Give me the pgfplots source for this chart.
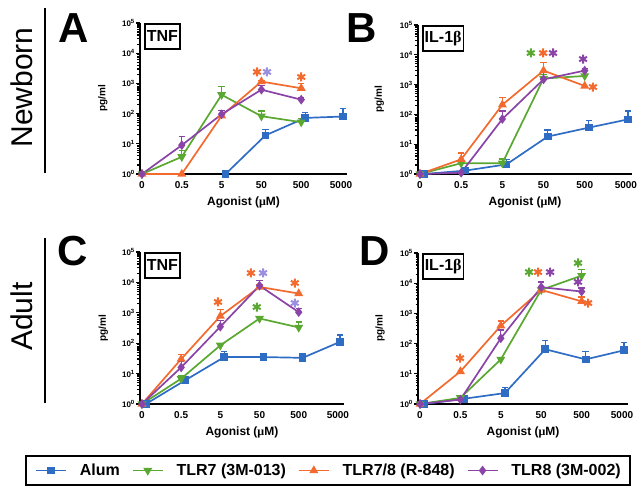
\documentclass[border=0pt]{standalone}
\usepackage{fontspec}
\setmainfont{Liberation Sans}
\newfontfamily\greekf{Liberation Serif}
\usepackage{pgfplots}
\pgfplotsset{compat=1.18}

\definecolor{cblue}{HTML}{2F6DC4}
\definecolor{cgreen}{HTML}{5AA832}
\definecolor{corange}{HTML}{F26A2E}
\definecolor{cpurple}{HTML}{8A44A8}
\definecolor{clav}{HTML}{9A8EE0}

\newcommand{\fs}[1]{\fontsize{#1}{#1}\selectfont}

\pgfplotsset{
  panelopts/.style={
    scale only axis, clip=false,
    ymin=1, ymax=1e5,
    xmin=-0.05, xmax=5.15,
    axis lines=left,
    axis line style={line width=2pt, -},
    xtick={0,1,2,3,4,5},
    xticklabels={0,0.5,5,50,500,5000},
    xtick style={draw=none},
    ytick={1,10,100,1000,10000,100000},
    yticklabels={10\textsuperscript{0},10\textsuperscript{1},10\textsuperscript{2},10\textsuperscript{3},10\textsuperscript{4},10\textsuperscript{5}},
    minor ytick={2,3,4,5,6,7,8,9,20,30,40,50,60,70,80,90,200,300,400,500,600,700,800,900,2000,3000,4000,5000,6000,7000,8000,9000,20000,30000,40000,50000,60000,70000,80000,90000},
    ytick style={line width=1.2pt, black},
    tick align=outside,
    major tick length=4pt, minor tick length=2.5pt,
    xticklabel style={font=\bfseries\fs{10}},
    yticklabel style={font=\bfseries\fs{8}, inner sep=1pt},
    xlabel={Agonist ({\greekf μ}M)},
    xlabel style={font=\bfseries\fs{12}, at={(axis description cs:0.5,-0.19)}, anchor=center},
    ylabel={pg/ml},
    ylabel style={font=\bfseries\fs{10}, at={(axis description cs:-0.18,0.5)}, anchor=center},
  },
  ebars/.style={error bars/.cd, y dir=plus, y explicit,
    error bar style={line width=1.3pt},
    error mark options={rotate=90, mark size=3.2pt, line width=1.3pt}},
  alum/.style={color=cblue, line width=1.7pt, mark=square*, mark size=3pt, mark options={solid}, ebars},
  tlrseven/.style={color=cgreen, line width=1.7pt, mark=triangle*, mark size=3.5pt, mark options={solid, rotate=180}, ebars},
  tlrrs/.style={color=corange, line width=1.7pt, mark=triangle*, mark size=3.5pt, mark options={solid}, ebars},
  tlreight/.style={color=cpurple, line width=1.7pt, mark=diamond*, mark size=3.5pt, mark options={solid}, ebars},
  sigstar/.style={only marks, mark=asterisk, mark size=4.5pt, line width=2pt, forget plot},
}
\tikzset{lbox/.style={draw=black, line width=1.6pt, anchor=north west, inner xsep=2pt, minimum height=25pt, font=\bfseries\fs{16}, xshift=4pt}}

\begin{document}
\begin{tikzpicture}[x=1pt, y=1pt]
\useasboundingbox (0,0) rectangle (641,-495);

% side titles and panel letters
\node[rotate=90, anchor=base, inner sep=0pt, font=\fs{30}] at (32,-87.5) {Newborn};
\draw[line width=2.5pt] (45,-8) -- (45,-173);
\node[rotate=90, anchor=base, inner sep=0pt, font=\fs{30}] at (32,-316.5) {Adult};
\draw[line width=2.5pt] (45,-238) -- (45,-403);
\node[anchor=base west, inner sep=0pt, font=\bfseries\fs{42}] at (58,-43) {A};
\node[anchor=base west, inner sep=0pt, font=\bfseries\fs{42}] at (346,-43) {B};
\node[anchor=base west, inner sep=0pt, font=\bfseries\fs{42}] at (57,-265) {C};
\node[anchor=base west, inner sep=0pt, font=\bfseries\fs{42}] at (359,-265) {D};

% A: newborn TNF
\begin{semilogyaxis}[panelopts, at={(140pt,-174pt)}, anchor=south west, width=207pt, height=151pt]
\addplot[alum] coordinates {(2.1,1) (3.1,19) += (0,11) (4.1,72) += (0,38) (5.05,80) += (0,70)};
\addplot[tlrseven] coordinates {(0,1) (1,3.7) += (0,2.3) (2,420) += (0,350) (3,82) += (0,40) (4,52) += (0,18)};
\addplot[tlrrs] coordinates {(0,1) (1,1) (2,85) (3,1150) += (0,100) (4,690) += (0,310)};
\addplot[tlreight] coordinates {(0,1) (1,9) += (0,8) (2,95) += (0,35) (3,620) += (0,250) (4,290) += (0,50)};
\addplot[sigstar, color=corange] coordinates {(2.89,2400) (4.0,1630)};
\addplot[sigstar, color=clav] coordinates {(3.14,2400)};
\node[lbox] at (rel axis cs:0,1) {TNF};
\end{semilogyaxis}

% B: newborn IL-1beta
\begin{semilogyaxis}[panelopts, at={(417.9pt,-174pt)}, anchor=south west, width=214.2pt, height=149pt]
\addplot[alum] coordinates {(0.1,1) (1.1,1.3) (2.1,2.1) += (0,1) (3.1,18) += (0,12) (4.1,36) += (0,26) (5.05,68) += (0,62)};
\addplot[tlrseven] coordinates {(0,1) (1,2.3) += (0,0.8) (2,2.3) += (0,0.9) (3,1600) += (0,600) (4,1950) += (0,1000)};
\addplot[tlrrs] coordinates {(0,1) (1,3.1) += (0,2) (2,210) += (0,150) (3,2950) += (0,2600) (4,900)};
\addplot[tlreight] coordinates {(0,1) (1,1.1) (2,70) += (0,60) (3,1500) += (0,1000) (4,2950) += (0,600)};
\addplot[sigstar, color=cgreen] coordinates {(2.69,11500)};
\addplot[sigstar, color=corange] coordinates {(2.99,11500) (4.2,830)};
\addplot[sigstar, color=cpurple] coordinates {(3.23,11500) (3.96,7200)};
\node[lbox] at (rel axis cs:0,1) {IL-1{\greekf β}};
\end{semilogyaxis}

% C: adult TNF
\begin{semilogyaxis}[panelopts, at={(140pt,-404pt)}, anchor=south west, width=203.8pt, height=152pt,
  legend columns=4,
  legend image code/.code={\draw[mark repeat=2,mark phase=2,#1] plot coordinates {(0pt,0pt) (15pt,0pt) (30pt,0pt)};},
  legend style={at={(axis description cs:0.9225,-0.4375)}, anchor=center, draw=black, line width=1.6pt,
    font=\bfseries\fs{16}, inner xsep=9pt, inner ysep=8pt, nodes={inner sep=0pt},
    /tikz/every odd column/.append style={column sep=13pt},
    /tikz/every even column/.append style={column sep=12pt}}]
\addplot[alum] coordinates {(0.1,1) (1.1,6) (2.1,35) += (0,17) (3.1,35) += (0,12) (4.1,33) += (0,14) (5.05,110) += (0,75)};
\addplot[tlrseven] coordinates {(0,1) (1,6.8) += (0,1.5) (2,85) (3,650) (4,330) += (0,170)};
\addplot[tlrrs] coordinates {(0,1) (1,30) += (0,12) (2,780) += (0,500) (3,7100) += (0,1500) (4,4300)};
\addplot[tlreight] coordinates {(0,1) (1,16) += (0,9) (2,350) += (0,200) (3,7800) += (0,4000) (4,1050) += (0,300)};
\addplot[sigstar, color=corange] coordinates {(1.94,2270) (2.78,20400) (3.90,9550)};
\addplot[sigstar, color=cgreen] coordinates {(2.93,1550)};
\addplot[sigstar, color=clav] coordinates {(3.09,20400) (3.90,2100)};
\node[lbox] at (rel axis cs:0,1) {TNF};
\legend{Alum, TLR7 (3M-013), TLR7/8 (R-848), TLR8 (3M-002)}
\end{semilogyaxis}

% D: adult IL-1beta
\begin{semilogyaxis}[panelopts, at={(418pt,-404pt)}, anchor=south west, width=210.1pt, height=151pt]
\addplot[alum] coordinates {(0.1,1) (1.1,1.5) (2.1,2.3) += (0,1.2) (3.1,65) += (0,65) (4.1,30) += (0,25) (5.05,60) += (0,50)};
\addplot[tlrseven] coordinates {(0,1) (1,1.6) (2,30) += (0,5) (3,6000) (4,17800) += (0,10000)};
\addplot[tlrrs] coordinates {(0,1) (1,12) (2,390) += (0,170) (3,6000) (4,2500) += (0,1000)};
\addplot[tlreight] coordinates {(0,1) (1,1.4) (2,150) += (0,130) (3,7400) += (0,3600) (4,5300) += (0,1700)};
\addplot[sigstar, color=corange] coordinates {(0.99,33) (2.92,23400) (4.16,2200)};
\addplot[sigstar, color=cgreen] coordinates {(2.70,23400) (3.91,46700)};
\addplot[sigstar, color=cpurple] coordinates {(3.22,23400) (3.91,11000)};
\node[lbox] at (rel axis cs:0,1) {IL-1{\greekf β}};
\end{semilogyaxis}
\end{tikzpicture}
\end{document}
